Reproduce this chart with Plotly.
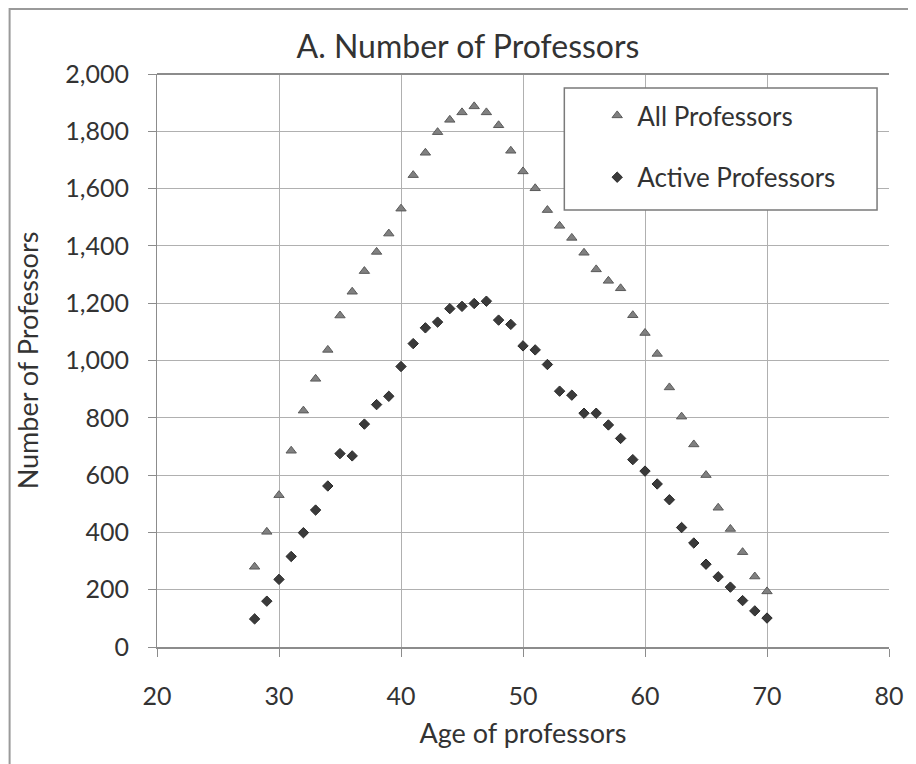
import plotly.graph_objects as go

ages = list(range(28, 71))
all_professors = [280, 402, 530, 685, 825, 936, 1037, 1157, 1240, 1312, 1379, 1443, 1530,
                  1647, 1725, 1797, 1840, 1866, 1887, 1866, 1821, 1732, 1660, 1601, 1525,
                  1470, 1428, 1376, 1318, 1278, 1252, 1158, 1096, 1023, 906, 804, 707, 600,
                  486, 412, 331, 246, 194]
active_professors = [98, 160, 236, 316, 399, 478, 562, 675, 667, 778, 846, 875, 979, 1059,
                     1114, 1134, 1181, 1189, 1199, 1207, 1141, 1126, 1051, 1037, 986, 893,
                     879, 816, 816, 775, 728, 654, 614, 569, 514, 417, 363, 289, 245, 209,
                     162, 126, 101]
x_ticks = [20, 30, 40, 50, 60, 70, 80]
y_ticks = [0, 200, 400, 600, 800, 1000, 1200, 1400, 1600, 1800, 2000]

# the page body adds an 8px margin, so the figure is drawn 8px in from the window edge
W, H = 908, 756
L, R, T, B = 149, 24, 66, 117
PW, PH = W - L - R, H - T - B


def px(xp):
    return (xp - L) / PW


def py(yp):
    return 1 - (yp - T) / PH


FONT = "Lato, 'Open Sans', sans-serif"
TXT = "#333333"

fig = go.Figure()
fig.add_trace(go.Scatter(
    x=ages, y=all_professors, mode="markers", name="All Professors",
    legendgroup="a",
    marker=dict(symbol="triangle-up", size=9, color="#808080",
                line=dict(color="#5a5a5a", width=1)),
))
fig.add_trace(go.Scatter(
    x=ages, y=active_professors, mode="markers", name="Active Professors",
    legendgroup="b",
    marker=dict(symbol="diamond", size=8, color="#3a3a3a",
                line=dict(color="#2a2a2a", width=1)),
))

fig.update_layout(
    width=W, height=H,
    margin=dict(l=L, r=R, t=T, b=B),
    paper_bgcolor="white", plot_bgcolor="white",
    font=dict(family=FONT, color=TXT, size=25),
    title=dict(text="A. Number of Professors", x=460 / W, xref="container",
               xanchor="center", y=1 - 39 / H, yref="container", yanchor="middle",
               font=dict(size=32, color=TXT, family=FONT)),
    showlegend=True,
    legend=dict(x=px(591), y=py(84), xanchor="left", yanchor="top",
                bgcolor="rgba(0,0,0,0)", borderwidth=0,
                font=dict(size=26, color=TXT, family=FONT),
                tracegroupgap=25, traceorder="grouped", itemsizing="trace"),
    xaxis=dict(range=[20, 80], tickvals=x_ticks, ticktext=[str(v) for v in x_ticks],
               showgrid=True, gridcolor="#b0b0b0", gridwidth=1,
               showline=True, linecolor="#8c8c8c", linewidth=2,
               ticks="outside", ticklen=8, tickcolor="#8c8c8c",
               tickfont=dict(size=25, color=TXT), ticklabelstandoff=18,
               zeroline=False,
               title=dict(text="Age of professors", font=dict(size=27, color=TXT),
                          standoff=15)),
    yaxis=dict(range=[0, 2000], tickvals=y_ticks, tickformat=",",
               showgrid=True, gridcolor="#b0b0b0", gridwidth=1,
               showline=True, linecolor="#8c8c8c", linewidth=1,
               ticks="outside", ticklen=8, tickcolor="#8c8c8c",
               tickfont=dict(size=25, color=TXT), ticklabelstandoff=14,
               zeroline=False,
               title=dict(text="Number of Professors", font=dict(size=27, color=TXT),
                          standoff=18)),
    shapes=[
        # legend frame
        dict(type="rect", xref="paper", yref="paper",
             x0=px(558), x1=px(872), y0=py(202), y1=py(80),
             fillcolor="white", line=dict(color="#7a7a7a", width=1.5), layer="above"),
        # outer chart frame (top and left edges visible)
        dict(type="rect", xref="paper", yref="paper",
             x0=px(1), x1=px(940), y0=py(800), y1=py(1),
             fillcolor="rgba(0,0,0,0)", line=dict(color="#9a9a9a", width=2), layer="below"),
        # heavier top edge of the plot area
        dict(type="line", xref="paper", yref="paper", x0=0, x1=1, y0=1, y1=1,
             line=dict(color="#8c8c8c", width=2), layer="above"),
    ],
)

fig.write_html("out.html")
